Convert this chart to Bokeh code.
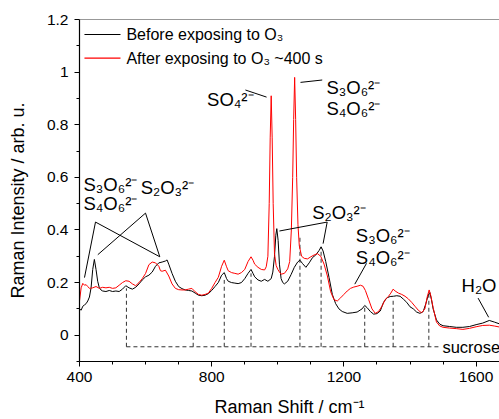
from bokeh.plotting import figure
from bokeh.models import FixedTicker, Span, Range1d, PrintfTickFormatter
from bokeh.embed import file_html
from bokeh.resources import INLINE
from bokeh.core.properties import value

FONT = "Liberation Sans"

# ---------------- data ----------------
wn_before = ([400, 405, 410, 415, 420, 425, 430, 435, 440, 445, 450, 455, 460, 465, 470]
             + [480, 490, 500, 510, 520, 530, 540, 550, 560, 570, 580, 590, 600, 610, 620, 630, 640, 650, 660]
             + [665, 670, 680, 690, 700, 710, 720, 730, 740, 750, 760, 770, 780, 790, 800, 810, 820, 830]
             + [838, 845, 850, 860, 870, 880, 890, 900, 910, 919, 925, 930, 940, 950, 960, 970, 980]
             + [985, 990, 994, 997, 1001, 1005, 1010, 1015, 1020, 1030, 1040, 1050, 1060, 1067, 1075, 1085,
                1095, 1105, 1115, 1125, 1131, 1137, 1145, 1155, 1165, 1175, 1185, 1195]
             + [1210, 1225, 1240, 1255, 1263, 1270, 1280, 1290, 1300, 1310, 1320, 1330, 1340, 1350, 1360,
                1370, 1380, 1390, 1400, 1410, 1420, 1430, 1440]
             + [1448, 1455, 1460, 1465, 1470, 1480, 1490, 1500, 1520, 1540, 1560, 1580, 1600, 1620, 1640, 1655, 1671])
int_before = ([0.100, 0.095, 0.110, 0.115, 0.120, 0.130, 0.145, 0.180, 0.250, 0.288, 0.250, 0.205, 0.180, 0.172, 0.168]
              + [0.166, 0.170, 0.166, 0.168, 0.166, 0.175, 0.188, 0.180, 0.175, 0.182, 0.195, 0.210, 0.222, 0.228,
                 0.240, 0.262, 0.275, 0.278, 0.282]
              + [0.286, 0.270, 0.235, 0.205, 0.185, 0.177, 0.172, 0.170, 0.168, 0.160, 0.152, 0.150, 0.152, 0.158,
                 0.170, 0.185, 0.200, 0.228]
              + [0.238, 0.215, 0.205, 0.200, 0.198, 0.196, 0.200, 0.215, 0.235, 0.250, 0.235, 0.222, 0.210, 0.205,
                 0.212, 0.205, 0.215]
              + [0.240, 0.300, 0.380, 0.405, 0.360, 0.270, 0.215, 0.200, 0.195, 0.205, 0.230, 0.258, 0.278, 0.285,
                 0.272, 0.258, 0.275, 0.295, 0.305, 0.322, 0.336, 0.320, 0.280, 0.220, 0.155, 0.120, 0.100, 0.090]
              + [0.083, 0.085, 0.088, 0.100, 0.113, 0.105, 0.090, 0.080, 0.082, 0.092, 0.125, 0.142, 0.147, 0.148,
                 0.150, 0.148, 0.137, 0.125, 0.108, 0.100, 0.088, 0.083, 0.090]
              + [0.120, 0.152, 0.162, 0.135, 0.100, 0.058, 0.042, 0.036, 0.033, 0.030, 0.030, 0.033, 0.040, 0.046,
                 0.056, 0.050, 0.043])

wn_after = ([400, 405, 410, 415, 420, 425, 430, 440, 450, 460, 470, 480, 490, 500, 510, 520, 530, 540, 550, 560,
             570, 580, 590, 600, 610, 620, 630, 640, 645, 650, 660, 670, 680, 690]
            + [700, 710, 720, 730, 740, 750, 760, 770, 780, 790, 800, 810, 820, 830, 838, 845, 850, 860, 870, 880,
               890, 900, 910, 919, 925, 930, 940, 950, 960, 965]
            + [970, 974, 977, 980, 983, 986, 990, 995, 1000, 1005, 1010, 1020, 1030, 1036, 1041, 1045, 1048, 1051,
               1054, 1057, 1061, 1065, 1072, 1080, 1090, 1100, 1110, 1120, 1130]
            + [1140, 1150, 1160, 1170, 1180, 1190, 1200, 1210, 1220, 1230, 1240, 1250, 1258, 1265, 1275, 1285, 1295,
               1305, 1315, 1325, 1335, 1342, 1349, 1355, 1365, 1375, 1385, 1395, 1405, 1415, 1425, 1435, 1445, 1452,
               1458, 1463, 1470, 1480, 1490, 1500, 1520, 1540, 1560, 1580, 1600, 1620, 1640, 1655, 1671])
int_after = ([0.130, 0.180, 0.197, 0.190, 0.192, 0.185, 0.178, 0.180, 0.185, 0.178, 0.182, 0.180, 0.182, 0.178,
              0.180, 0.190, 0.200, 0.207, 0.205, 0.195, 0.188, 0.200, 0.215, 0.235, 0.268, 0.278, 0.275, 0.262,
              0.245, 0.243, 0.247, 0.225, 0.195, 0.178]
             + [0.173, 0.172, 0.172, 0.175, 0.178, 0.165, 0.155, 0.152, 0.155, 0.160, 0.178, 0.200, 0.220, 0.262,
                0.285, 0.260, 0.245, 0.238, 0.235, 0.232, 0.238, 0.250, 0.280, 0.298, 0.285, 0.270, 0.258, 0.250,
                0.248, 0.260]
             + [0.300, 0.500, 0.750, 0.910, 0.750, 0.500, 0.310, 0.265, 0.250, 0.240, 0.232, 0.235, 0.252, 0.280,
                0.400, 0.600, 0.820, 0.980, 0.820, 0.600, 0.420, 0.340, 0.300, 0.292, 0.290, 0.298, 0.305, 0.310,
                0.300]
             + [0.270, 0.225, 0.165, 0.135, 0.130, 0.142, 0.155, 0.168, 0.178, 0.183, 0.186, 0.190, 0.186, 0.170,
                0.135, 0.100, 0.083, 0.090, 0.110, 0.135, 0.148, 0.160, 0.175, 0.168, 0.160, 0.155, 0.148, 0.138,
                0.125, 0.110, 0.095, 0.085, 0.100, 0.145, 0.172, 0.150, 0.105, 0.050, 0.035, 0.030, 0.027, 0.025,
                0.022, 0.026, 0.032, 0.037, 0.038, 0.035, 0.031])

series_labels = ["Before exposing to O₃", "After exposing to O₃ ~400 s"]
series_colors = ["black", "#ff0000"]

sucrose_peaks = [542, 744, 838, 919, 1067, 1131, 1263, 1349, 1457]
sucrose_tops = [0.178, 0.140, 0.210, 0.235, 0.373, 0.335, 0.105, 0.140, 0.166]
sucrose_level = -0.044
sucrose_end = 1488
sucrose_label = "sucrose"

x_ticks = [400, 800, 1200, 1600]
x_minor = [500, 600, 700, 900, 1000, 1100, 1300, 1400, 1500]
y_ticks = [0, 0.2, 0.4, 0.6, 0.8, 1.0, 1.2]
y_minor = [-0.1, 0.1, 0.3, 0.5, 0.7, 0.9, 1.1]

x_title = "Raman Shift / cm⁻¹"
# trailing no-break spaces nudge the centred title slightly downward, as in the original
y_title = "Raman Intensity / arb. u." + "\u00a0" * 4

# annotation texts (data coordinates)
ann_text = ["S₃O₆²⁻", "S₄O₆²⁻", "S₂O₃²⁻", "SO₄²⁻", "S₃O₆²⁻", "S₄O₆²⁻",
            "S₂O₃²⁻", "S₃O₆²⁻", "S₄O₆²⁻", "H₂O"]
ann_x = [412, 412, 585, 786, 1147, 1147, 1104, 1236, 1236, 1556]
ann_y = [0.574, 0.499, 0.563, 0.897, 0.942, 0.863, 0.468, 0.380, 0.296, 0.188]

# leader lines
lead_x0 = [448.4, 448.4, 599.7, 599.7, 902, 1068.7, 1149.4, 1149.4, 1268.4, 1606]
lead_y0 = [0.430, 0.430, 0.464, 0.464, 0.932, 0.961, 0.430, 0.430, 0.273, 0.141]
lead_x1 = [415.1, 643, 455.4, 643, 966, 1134.4, 1005, 1137, 1233, 1638]
lead_y1 = [0.219, 0.298, 0.306, 0.298, 0.905, 0.970, 0.396, 0.348, 0.194, 0.068]

# legend placement (data coordinates)
leg_x0, leg_x1, leg_tx = 415, 524, 542
leg_y = [1.143, 1.053]

# ---------------- figure ----------------
p = figure(width=499, height=419, output_backend="svg", toolbar_location=None,
           x_range=Range1d(400, 1670.8), y_range=Range1d(-0.1, 1.2),
           min_border_left=79, min_border_right=0, min_border_top=19, min_border_bottom=55,
           x_axis_label=x_title, y_axis_label=y_title)
p.outline_line_color = None
p.xgrid.visible = False
p.ygrid.visible = False
p.background_fill_color = "white"
p.border_fill_color = "white"

for ax in (p.xaxis[0], p.yaxis[0]):
    ax.axis_line_color = "black"
    ax.axis_line_width = 1.2
    ax.major_tick_line_color = "black"
    ax.minor_tick_line_color = "black"
    ax.major_tick_in = 0
    ax.major_tick_out = 5
    ax.minor_tick_in = 0
    ax.minor_tick_out = 3
    ax.major_label_text_font = FONT
    ax.major_label_text_font_size = "15.5px"
    ax.major_label_text_color = "black"
    ax.axis_label_text_font = FONT
    ax.axis_label_text_font_size = "18px"
    ax.axis_label_text_font_style = "normal"
    ax.axis_label_text_color = "black"

xa = p.xaxis[0]
xa.ticker = FixedTicker(ticks=x_ticks, minor_ticks=x_minor)
xa.major_label_standoff = 5
xa.axis_label_standoff = 12

ya = p.yaxis[0]
ya.ticker = FixedTicker(ticks=y_ticks, minor_ticks=y_minor)
ya.formatter = PrintfTickFormatter(format="%g")
ya.major_label_standoff = 6
ya.axis_label_standoff = 16

p.add_layout(Span(location=1.2, dimension="width", line_color="#333333", line_width=1.2))

# sucrose dashed bracket
p.segment(x0=sucrose_peaks, y0=[sucrose_level] * len(sucrose_peaks), x1=sucrose_peaks, y1=sucrose_tops,
          line_color="#333333", line_width=1, line_dash="4 3")
p.segment(x0=[sucrose_peaks[0]], y0=[sucrose_level], x1=[sucrose_end], y1=[sucrose_level],
          line_color="#333333", line_width=1, line_dash="4 3")
p.text(x=[sucrose_end + 10], y=[sucrose_level], text=[sucrose_label], text_font=value(FONT),
       text_font_size="16.5px", text_baseline="middle", text_align="left", text_color="black")

# spectra
p.line(wn_before, int_before, line_color=series_colors[0], line_width=1)
p.line(wn_after, int_after, line_color=series_colors[1], line_width=1)

# annotations
p.segment(x0=lead_x0, y0=lead_y0, x1=lead_x1, y1=lead_y1, line_color="black", line_width=1)
p.text(x=ann_x, y=ann_y, text=ann_text, text_font=value(FONT), text_font_size="18.5px",
       text_baseline="alphabetic", text_align="left", text_color="black")

# legend
p.segment(x0=[leg_x0, leg_x0], y0=leg_y, x1=[leg_x1, leg_x1], y1=leg_y,
          line_color=series_colors, line_width=1.2)
p.text(x=[leg_tx, leg_tx], y=leg_y, text=series_labels, text_font=value(FONT), text_font_size="16px",
       text_baseline="middle", text_align="left", text_color="black")

open("out.html", "w").write(file_html(p, INLINE))
